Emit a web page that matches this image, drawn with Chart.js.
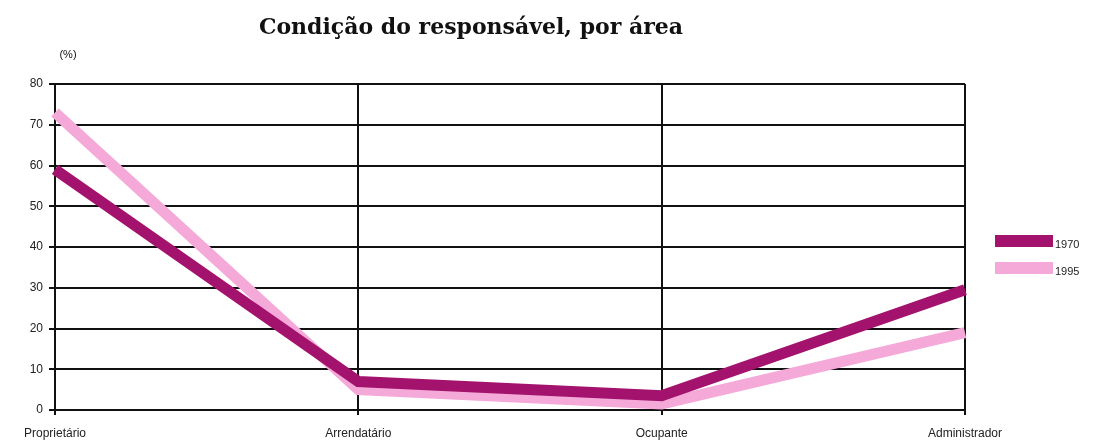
<!DOCTYPE html>
<html>
<head>
<meta charset="utf-8">
<script src="https://cdn.jsdelivr.net/npm/chart.js@4/dist/chart.umd.min.js"></script>
<style>
  html, body { margin: 0; padding: 0; background: #fff; }
  #wrap { width: 1094px; height: 441px; }
</style>
</head>
<body>
<div id="wrap"><canvas id="grafico"></canvas></div>
<script>
const categorias = ['Proprietário', 'Arrendatário', 'Ocupante', 'Administrador'];
const serie1970 = [59, 7, 3.5, 29.5];
const serie1995 = [73, 5, 1.5, 19];
const titulo = 'Condição do responsável, por área';
const unidade = '(%)';

const corEscura = '#a3126c';
const corClara = '#f5a9d9';
const fonteEixo = "'Liberation Sans Narrow', 'Liberation Sans', sans-serif";

// titulo, unidade e legenda desenhados a mao
const extras = {
  id: 'extras',
  afterDraw(chart) {
    const ctx = chart.ctx;
    ctx.save();
    ctx.fillStyle = '#111';
    ctx.font = "bold 22px 'DejaVu Serif', 'Liberation Serif', serif";
    ctx.textAlign = 'center';
    ctx.textBaseline = 'middle';
    ctx.fillText(titulo, 471, 28);

    ctx.font = '11px ' + fonteEixo;
    ctx.fillText(unidade, 68, 55);

    // legenda
    const itens = chart.data.datasets;
    itens.forEach((ds, i) => {
      const y = 241 + i * 27;
      ctx.fillStyle = ds.borderColor;
      ctx.fillRect(995, y - 6, 58, 12);
      ctx.fillStyle = '#222';
      ctx.textAlign = 'left';
      ctx.fillText(ds.label, 1055, y + 4);
    });
    ctx.restore();
  }
};

new Chart(document.getElementById('grafico'), {
  type: 'line',
  data: {
    labels: categorias,
    datasets: [
      { label: '1970', data: serie1970, borderColor: corEscura, backgroundColor: corEscura },
      { label: '1995', data: serie1995, borderColor: corClara, backgroundColor: corClara }
    ]
  },
  options: {
    responsive: true,
    maintainAspectRatio: false,
    animation: false,
    layout: { padding: { top: 84, right: 129, left: 0, bottom: 0 } },
    elements: {
      line: { borderWidth: 11, tension: 0, borderJoinStyle: 'miter', borderCapStyle: 'butt' },
      point: { radius: 0, hoverRadius: 0 }
    },
    plugins: {
      legend: { display: false },
      title: { display: false },
      tooltip: { enabled: false }
    },
    scales: {
      x: {
        type: 'category',
        offset: false,
        afterFit(scale) { scale.height = 31; },
        grid: { color: '#111', lineWidth: 2, tickLength: 5, offset: false },
        border: { color: '#111', width: 2 },
        ticks: { color: '#222', font: { family: fonteEixo, size: 12 }, maxRotation: 0, padding: 11 }
      },
      y: {
        min: 0,
        max: 80,
        afterFit(scale) { scale.width = 55; },
        grid: { color: '#111', lineWidth: 2, tickLength: 6 },
        border: { color: '#111', width: 2 },
        ticks: { stepSize: 10, color: '#222', font: { family: fonteEixo, size: 12 }, padding: 6 }
      }
    }
  },
  plugins: [extras]
});
</script>
</body>
</html>
